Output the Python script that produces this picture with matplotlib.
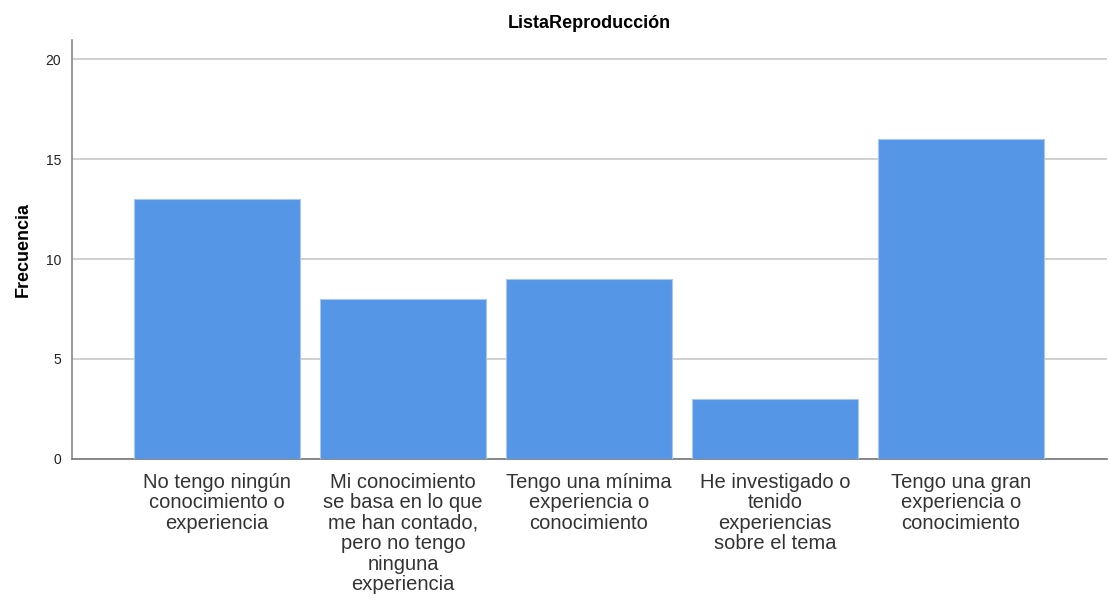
import matplotlib
matplotlib.use('Agg')
import matplotlib.pyplot as plt

plt.rcParams['font.family'] = ['Liberation Sans', 'DejaVu Sans']

# data
categories = [
    'No tengo ningún\nconocimiento o\nexperiencia',
    'Mi conocimiento\nse basa en lo que\nme han contado,\npero no tengo\nninguna\nexperiencia',
    'Tengo una mínima\nexperiencia o\nconocimiento',
    'He investigado o\ntenido\nexperiencias\nsobre el tema',
    'Tengo una gran\nexperiencia o\nconocimiento',
]
frecuencia = [13, 8, 9, 3, 16]
yticks = [0, 5, 10, 15, 20]

fig = plt.figure(figsize=(11.1, 6.01), dpi=100)
ax = fig.add_axes([0.0649, 0.2363, 0.9324, 0.6971])

x = list(range(len(categories)))
ax.bar(x, frecuencia, width=0.89, color='#5596E6', edgecolor='#A9C8F0', linewidth=0.8, zorder=3)

ax.set_xlim(-0.78, 4.785)
ax.set_ylim(0, 20.95)
ax.set_yticks(yticks)
ax.set_xticks(x)
ax.set_xticklabels(categories, fontsize=14.5, color='#333333', linespacing=1.1)
ax.tick_params(axis='y', labelsize=10, colors='#222222', length=0, pad=8)
ax.tick_params(axis='x', length=0, pad=10)
ax.grid(axis='y', color='#C8C8C8', linewidth=1.2, zorder=0)

for s in ['top', 'right']:
    ax.spines[s].set_visible(False)
ax.spines['left'].set_color('#888888')
ax.spines['bottom'].set_color('#777777')
ax.spines['left'].set_linewidth(1.2)
ax.spines['bottom'].set_linewidth(1.2)

ax.set_ylabel('Frecuencia', fontsize=13, fontweight='bold', labelpad=10)
ax.set_title('ListaReproducción', fontsize=13, fontweight='bold', pad=9)

fig.savefig('out.png', dpi=100)
